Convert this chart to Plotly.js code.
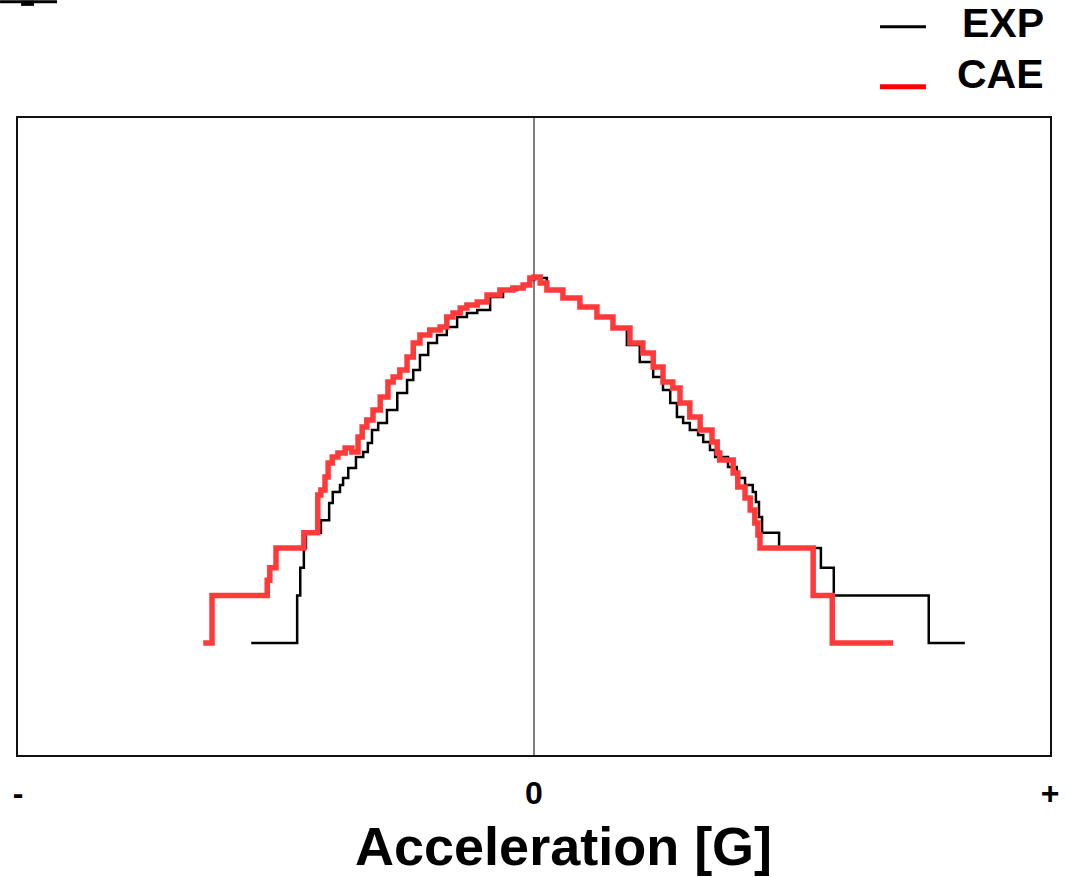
<!DOCTYPE html>
<html>
<head>
<meta charset="utf-8">
<script src="https://cdn.plot.ly/plotly-3.0.1.min.js"></script>
<style>html,body{margin:0;padding:0;background:#fff;}#chart{width:1066px;height:877px;}</style>
</head>
<body>
<div id="chart"></div>
<script>
// Acceleration (normalized, -1 = "-" end, +1 = "+" end) and log10 of occurrence count
const expAccel = [-0.548,-0.459,-0.453,-0.446,-0.442,-0.413,-0.397,-0.390,-0.376,-0.370,-0.360,-0.345,-0.331,-0.322,-0.314,-0.302,-0.285,-0.265,-0.246,-0.234,-0.221,-0.205,-0.188,-0.169,-0.149,-0.130,-0.110,-0.085,-0.060,-0.033,-0.021,-0.008,0.000,0.025,0.056,0.089,0.122,0.153,0.180,0.205,0.231,0.250,0.264,0.277,0.289,0.302,0.318,0.328,0.341,0.351,0.376,0.393,0.409,0.424,0.430,0.436,0.442,0.475,0.556,0.581,0.765,0.835];
const expLogCount = [0,0.301,0.477,0.602,0.699,0.778,0.887,0.957,1.001,1.046,1.109,1.179,1.210,1.267,1.350,1.394,1.477,1.584,1.667,1.730,1.825,1.901,1.952,2.002,2.066,2.091,2.110,2.193,2.237,2.250,2.269,2.300,2.313,2.237,2.186,2.129,2.066,1.996,1.888,1.781,1.686,1.603,1.521,1.432,1.394,1.350,1.318,1.274,1.223,1.179,1.115,1.046,1.001,0.957,0.894,0.798,0.699,0.602,0.477,0.301,0,0];

const caeAccel = [-0.641,-0.624,-0.517,-0.512,-0.500,-0.446,-0.419,-0.413,-0.405,-0.399,-0.391,-0.380,-0.366,-0.353,-0.341,-0.333,-0.324,-0.312,-0.298,-0.283,-0.273,-0.260,-0.246,-0.234,-0.221,-0.202,-0.182,-0.169,-0.157,-0.143,-0.130,-0.110,-0.091,-0.066,-0.041,-0.021,-0.008,0.000,0.012,0.025,0.056,0.089,0.122,0.153,0.186,0.211,0.231,0.250,0.269,0.283,0.302,0.322,0.345,0.355,0.360,0.386,0.395,0.409,0.419,0.428,0.434,0.438,0.541,0.578,0.696];
const caeLogCount = [0,0.301,0.398,0.477,0.602,0.699,0.938,0.970,1.052,1.141,1.179,1.204,1.236,1.210,1.305,1.369,1.413,1.477,1.559,1.654,1.686,1.730,1.812,1.901,1.952,1.984,2.002,2.066,2.091,2.123,2.142,2.161,2.205,2.237,2.250,2.269,2.313,2.319,2.281,2.237,2.186,2.129,2.066,1.996,1.901,1.838,1.749,1.654,1.616,1.521,1.432,1.350,1.274,1.204,1.160,1.077,0.989,0.919,0.843,0.760,0.684,0.602,0.301,0,0];

const tickPositions = [-1, 0, 1];
const tickLabels = ["-", "0", "+"];
const seriesNames = ["EXP", "CAE"];
const xTitle = "Acceleration [G]";

const FONT = "Liberation Sans, Arial, sans-serif";

const traces = [
  {x: expAccel, y: expLogCount, name: seriesNames[0], type: "scatter", mode: "lines",
   line: {shape: "hv", color: "#000000", width: 2.5}, showlegend: false},
  {x: caeAccel, y: caeLogCount, name: seriesNames[1], type: "scatter", mode: "lines",
   line: {shape: "hv", color: "rgb(255,58,58)", width: 5.5}, showlegend: false}
];

const layout = {
  width: 1066, height: 877,
  margin: {l: 18, r: 16, t: 118, b: 122},
  paper_bgcolor: "#fff", plot_bgcolor: "#fff",
  showlegend: false,
  xaxis: {
    range: [-1, 1], tickvals: tickPositions, ticktext: tickLabels,
    ticks: "outside", ticklen: 9, tickcolor: "rgba(0,0,0,0)",
    tickfont: {family: FONT, size: 32, color: "#000", weight: "bold"},
    showgrid: false, zeroline: true, zerolinecolor: "#808080", zerolinewidth: 1.5,
    showline: true, mirror: true, linecolor: "#111", linewidth: 2
  },
  yaxis: {
    range: [-0.71, 3.327], showticklabels: false, ticks: "",
    showgrid: false, zeroline: false,
    showline: true, mirror: true, linecolor: "#111", linewidth: 2
  },
  shapes: [
    {type: "line", xref: "paper", yref: "paper", x0: -0.0174, x1: 0.0378, y0: 1.1825, y1: 1.1825, line: {color: "#000", width: 3}},
    {type: "rect", xref: "paper", yref: "paper", x0: 0.003, x1: 0.0155, y0: 1.176, y1: 1.184, fillcolor: "#000", line: {width: 0}},
    {type: "line", xref: "paper", yref: "paper", x0: 0.8353, x1: 0.8798, y0: 1.1433, y1: 1.1433, line: {color: "#000", width: 3}},
    {type: "line", xref: "paper", yref: "paper", x0: 0.8353, x1: 0.8798, y0: 1.0492, y1: 1.0492, line: {color: "#ff0000", width: 5}}
  ],
  annotations: [
    {xref: "paper", yref: "paper", x: 0.9961, y: 1.1486, xanchor: "right", yanchor: "middle", showarrow: false,
     text: seriesNames[0], font: {family: FONT, size: 41, color: "#000", weight: "bold"}},
    {xref: "paper", yref: "paper", x: 0.9961, y: 1.0690, xanchor: "right", yanchor: "middle", showarrow: false,
     text: seriesNames[1], font: {family: FONT, size: 41, color: "#000", weight: "bold"}},
    {xref: "paper", yref: "paper", x: 0.529, y: -0.143, xanchor: "center", yanchor: "middle", showarrow: false,
     text: xTitle, font: {family: FONT, size: 54, color: "#000", weight: "bold"}}
  ]
};

Plotly.newPlot("chart", traces, layout, {displayModeBar: false, staticPlot: true});
</script>
</body>
</html>
